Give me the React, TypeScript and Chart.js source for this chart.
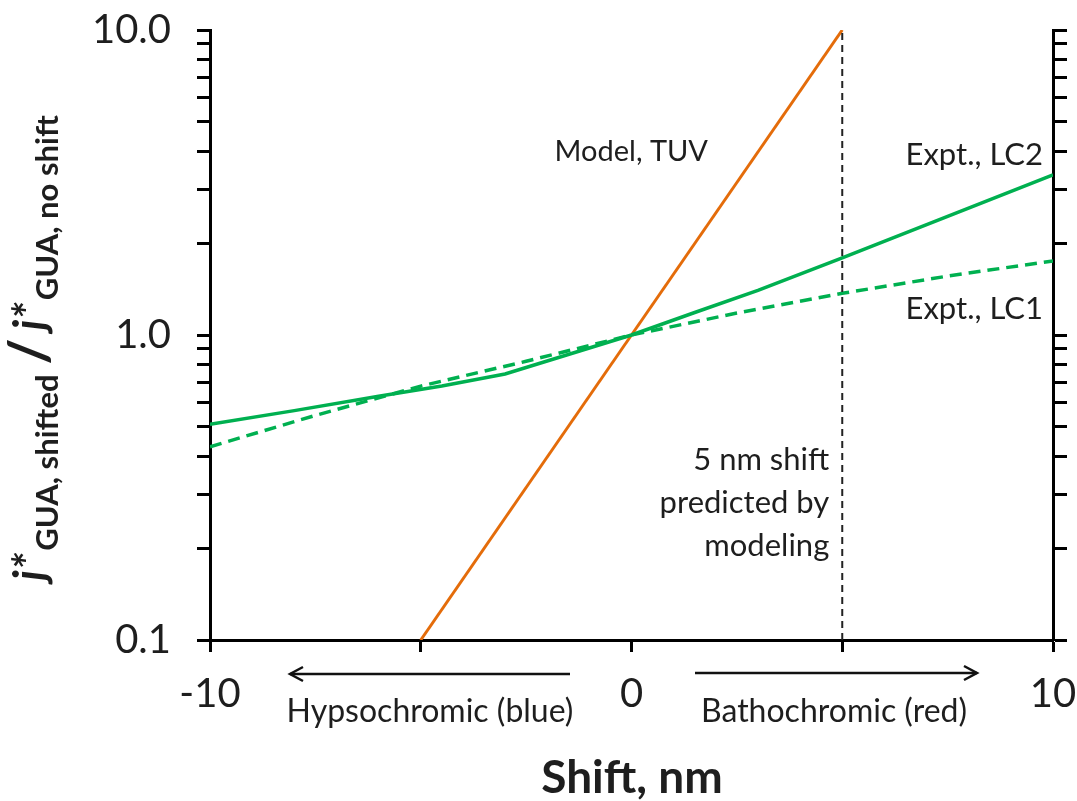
import React, { useEffect, useRef } from 'react';
import { Chart, registerables } from 'chart.js';

Chart.register(...registerables);

// ---- data ----
const shiftModel = [-5, 0, 5];
const ratioModel = [0.1, 1.0, 10.0];

const shiftLC2 = [-10, -8, -6, -4.5, -3, -1.5, 0, 1.5, 3, 5, 7.5, 10];
const ratioLC2 = [0.51, 0.565, 0.63, 0.68, 0.745, 0.863, 1.0, 1.185, 1.40, 1.79, 2.45, 3.35];

const shiftLC1 = [-10, -7.5, -5, -2.5, 0, 2.5, 5, 7.5, 10];
const ratioLC1 = [0.43, 0.545, 0.68, 0.82, 1.0, 1.18, 1.37, 1.56, 1.75];

const predictedShift = [5, 5];
const predictedRange = [0.1, 10];

const xTickValues = [-10, -5, 0, 5, 10];
const xTickLabels = ['-10', '', '0', '', '10'];

const yTickValues = [0.1, 0.2, 0.3, 0.4, 0.5, 0.6, 0.7, 0.8, 0.9, 1, 2, 3, 4, 5, 6, 7, 8, 9, 10];
const yTickLabels = ['0.1', '', '', '', '', '', '', '', '', '1.0', '', '', '', '', '', '', '', '', '10.0'];

const FONT = 'Lato';
const TEXT = '#1e1e1e';
const ORANGE = '#E46C0A';
const GREEN = '#00B050';

const pts = (xs: number[], ys: number[]) => xs.map((x, i) => ({ x, y: ys[i] }));

const zeroPad = (s: any) => {
  s.paddingTop = 0;
  s.paddingBottom = 0;
  s.paddingLeft = 0;
  s.paddingRight = 0;
};

const annotations = {
  id: 'annotations',
  afterDraw(chart: any) {
    const ctx = chart.ctx as CanvasRenderingContext2D;
    const xs = chart.scales.x;
    ctx.save();
    ctx.fillStyle = TEXT;
    ctx.textBaseline = 'middle';
    ctx.textAlign = 'right';
    ctx.font = `29px ${FONT}`;
    ctx.fillText('Model, TUV', 708, 152);
    ctx.font = `31px ${FONT}`;
    ctx.fillText('Expt., LC2', 1043, 155);
    ctx.fillText('Expt., LC1', 1043, 309);
    const x5 = xs.getPixelForValue(5) - 13;
    ctx.fillText('5 nm shift', x5, 460);
    ctx.fillText('predicted by', x5, 503);
    ctx.fillText('modeling', x5, 546);
    ctx.textAlign = 'center';
    ctx.font = `32px ${FONT}`;
    ctx.fillText('Hypsochromic (blue)', 430, 712);
    ctx.fillText('Bathochromic (red)', 834, 712);

    // arrows
    ctx.strokeStyle = '#111';
    ctx.lineWidth = 2.5;
    const arrow = (x0: number, x1: number, y: number) => {
      const d = x1 > x0 ? -1 : 1;
      ctx.beginPath();
      ctx.moveTo(x0, y);
      ctx.lineTo(x1, y);
      ctx.stroke();
      ctx.beginPath();
      ctx.moveTo(x1 + d * 13, y - 7);
      ctx.lineTo(x1, y);
      ctx.lineTo(x1 + d * 13, y + 7);
      ctx.stroke();
    };
    arrow(570, 290, 674);
    arrow(695, 977, 673);

    // x title
    ctx.font = `bold 46px ${FONT}`;
    ctx.textAlign = 'center';
    ctx.fillText('Shift, nm', 632, 778);

    // y title (rotated, with subscripts)
    const parts = [
      { t: 'j*', f: `italic bold 44px ${FONT}`, dy: 0, gap: 0 },
      { t: 'GUA, shifted', f: `bold 31px ${FONT}`, dy: 13, gap: 2 },
      { t: '/', f: `bold 56px ${FONT}`, dy: 3, gap: 8 },
      { t: 'j*', f: `italic bold 44px ${FONT}`, dy: 0, gap: 0 },
      { t: 'GUA, no shift', f: `bold 31px ${FONT}`, dy: 13, gap: 2 },
    ];
    let total = 0;
    const widths = parts.map((p) => {
      ctx.font = p.f;
      const w = ctx.measureText(p.t).width + p.gap * 2;
      total += w;
      return w;
    });
    ctx.translate(45, 347);
    ctx.rotate(-Math.PI / 2);
    ctx.textAlign = 'left';
    ctx.textBaseline = 'alphabetic';
    let cx = -total / 2;
    parts.forEach((p, i) => {
      ctx.font = p.f;
      ctx.fillText(p.t, cx + p.gap, p.dy);
      cx += widths[i];
    });
    ctx.restore();
  },
};

export default function App() {
  const ref = useRef<HTMLCanvasElement | null>(null);
  useEffect(() => {
    if (!ref.current) return;
    Chart.defaults.font.family = FONT;
    Chart.defaults.color = TEXT;
    const chart = new Chart(ref.current, {
      type: 'line',
      data: {
        datasets: [
          {
            data: pts(predictedShift, predictedRange),
            borderColor: '#222',
            borderWidth: 2,
            borderDash: [7, 5],
            pointRadius: 0,
            yAxisID: 'y',
          },
          {
            data: pts(shiftLC1, ratioLC1),
            borderColor: GREEN,
            borderWidth: 3.5,
            borderDash: [12, 7],
            pointRadius: 0,
            yAxisID: 'y',
          },
          {
            data: pts(shiftLC2, ratioLC2),
            borderColor: GREEN,
            borderWidth: 3.5,
            pointRadius: 0,
            yAxisID: 'y',
          },
          {
            data: pts(shiftModel, ratioModel),
            borderColor: ORANGE,
            borderWidth: 3,
            pointRadius: 0,
            yAxisID: 'y',
          },
        ],
      },
      options: {
        animation: false,
        responsive: false,
        layout: { padding: { top: 30, left: 0, right: 0, bottom: 0 } },
        plugins: { legend: { display: false }, tooltip: { enabled: false } },
        scales: {
          x: {
            type: 'linear',
            min: -10,
            max: 10,
            position: 'bottom',
            border: { display: true, color: '#000', width: 3 },
            grid: { drawOnChartArea: false, drawTicks: true, tickLength: 12, tickColor: '#000', tickWidth: 3 },
            afterBuildTicks: (s: any) => {
              s.ticks = xTickValues.map((v) => ({ value: v }));
            },
            afterFit: (s: any) => {
              s.height = 161;
              zeroPad(s);
            },
            ticks: {
              autoSkip: false,
              maxRotation: 0,
              padding: 18,
              font: { size: 40, family: FONT },
              color: TEXT,
              callback: (v: any) => xTickLabels[xTickValues.indexOf(Number(v))] ?? '',
            },
          },
          y: {
            type: 'logarithmic',
            min: 0.1,
            max: 10,
            position: 'left',
            border: { display: true, color: '#000', width: 3 },
            grid: { drawOnChartArea: false, drawTicks: true, tickLength: 13, tickColor: '#000', tickWidth: 3 },
            afterBuildTicks: (s: any) => {
              s.ticks = yTickValues.map((v) => ({ value: v }));
            },
            afterFit: (s: any) => {
              s.width = 210;
              zeroPad(s);
            },
            ticks: {
              autoSkip: false,
              padding: 26,
              font: { size: 40, family: FONT },
              color: TEXT,
              callback: (v: any) => {
                const i = yTickValues.findIndex((t) => Math.abs(t - Number(v)) < 1e-9);
                return i >= 0 ? yTickLabels[i] : '';
              },
            },
          },
          y2: {
            type: 'logarithmic',
            min: 0.1,
            max: 10,
            position: 'right',
            border: { display: true, color: '#000', width: 3 },
            grid: { drawOnChartArea: false, drawTicks: true, tickLength: 14, tickColor: '#000', tickWidth: 3 },
            afterBuildTicks: (s: any) => {
              s.ticks = yTickValues.map((v) => ({ value: v }));
            },
            afterFit: (s: any) => {
              s.width = 24;
              zeroPad(s);
            },
            ticks: { autoSkip: false, display: true, callback: () => '' },
          },
        },
      },
      plugins: [annotations],
    } as any);
    return () => chart.destroy();
  }, []);
  return (
    <div style={{ position: 'absolute', left: 0, top: 0, width: 1077, height: 801, background: '#fff' }}>
      <canvas ref={ref} width={1077} height={801} style={{ display: 'block' }} />
    </div>
  );
}
